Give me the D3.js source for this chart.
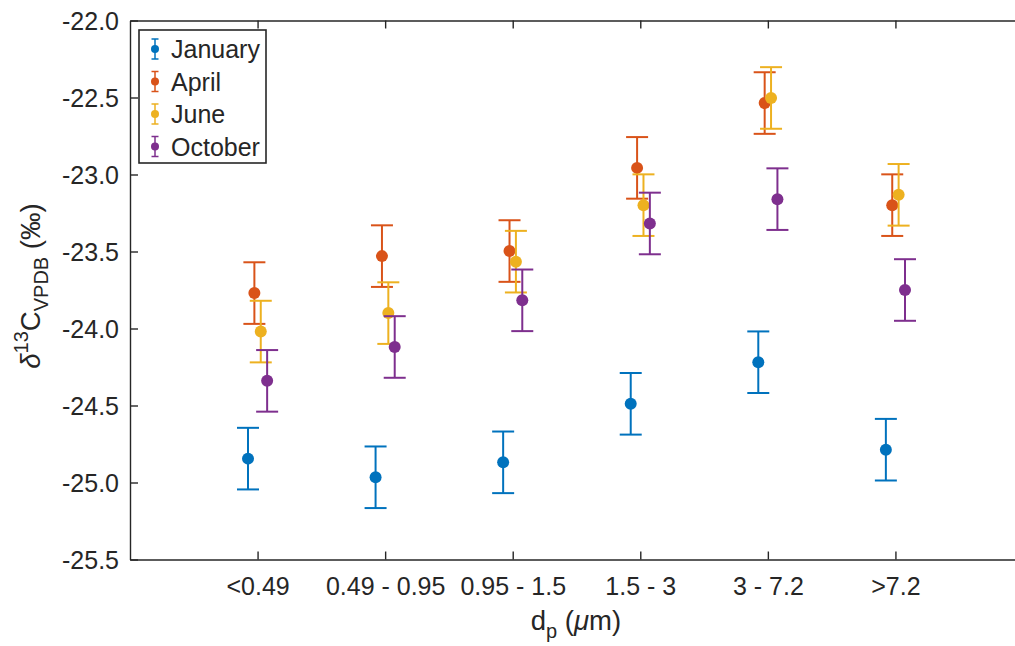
<!DOCTYPE html>
<html>
<head>
<meta charset="utf-8">
<script src="https://cdn.jsdelivr.net/npm/d3@7"></script>
<style>
  html, body { margin: 0; padding: 0; background: #fff; }
  svg { display: block; }
  text { font-family: "Liberation Sans", Arial, Helvetica, sans-serif; fill: #262626; }
</style>
</head>
<body>
<svg id="chart" width="1015" height="646"></svg>
<script>
// ---- data ----
const categories = ["<0.49", "0.49 - 0.95", "0.95 - 1.5", "1.5 - 3", "3 - 7.2", ">7.2"];
const seriesNames = ["January", "April", "June", "October"];
const january = [-24.845, -24.966, -24.869, -24.489, -24.219, -24.787];
const april   = [-23.770, -23.530, -23.497, -22.957, -22.536, -23.199];
const june    = [-24.020, -23.900, -23.566, -23.199, -22.503, -23.132];
const october = [-24.340, -24.120, -23.817, -23.318, -23.160, -23.750];
const errJanuary = [0.2, 0.2, 0.2, 0.2, 0.2, 0.2];
const errApril   = [0.2, 0.2, 0.2, 0.2, 0.2, 0.2];
const errJune    = [0.2, 0.2, 0.2, 0.2, 0.2, 0.2];
const errOctober = [0.2, 0.2, 0.2, 0.2, 0.2, 0.2];
const yTicks = [-25.5, -25.0, -24.5, -24.0, -23.5, -23.0, -22.5, -22.0];
const offsets = [-0.075, -0.025, 0.025, 0.075];
const colors = ["#0072BD", "#D95319", "#EDB120", "#7E2F8E"];

const series = [
  {name: seriesNames[0], values: january, err: errJanuary},
  {name: seriesNames[1], values: april, err: errApril},
  {name: seriesNames[2], values: june, err: errJune},
  {name: seriesNames[3], values: october, err: errOctober}
];

// ---- layout ----
const svg = d3.select("#chart");
const mLeft = 130, mRight = 1023, mTop = 20.5, mBottom = 559.5;
const x = d3.scaleLinear().domain([0, categories.length + 1]).range([mLeft, mRight]);
const y = d3.scaleLinear().domain([-25.5, -22.0]).range([mBottom, mTop]);
const axisColor = "#262626";
const fs = 25;
const fsLabel = 27.5;
const fsSmall = 20;
const tickLen = 8;

// series marks
const capHalf = 11;
series.forEach((s, si) => {
  const g = svg.append("g").attr("stroke", colors[si]).attr("fill", colors[si]);
  s.values.forEach((v, i) => {
    const cx = x(i + 1 + offsets[si]);
    const y1 = y(v + s.err[i]), y0 = y(v - s.err[i]);
    g.append("line").attr("x1", cx).attr("x2", cx).attr("y1", y1).attr("y2", y0).attr("stroke-width", 2);
    g.append("line").attr("x1", cx - capHalf).attr("x2", cx + capHalf).attr("y1", y1).attr("y2", y1).attr("stroke-width", 2);
    g.append("line").attr("x1", cx - capHalf).attr("x2", cx + capHalf).attr("y1", y0).attr("y2", y0).attr("stroke-width", 2);
    g.append("circle").attr("cx", cx).attr("cy", y(v)).attr("r", 6).attr("stroke", "none");
  });
});

// axes box
const axG = svg.append("g");
const xAxis = d3.axisBottom(x).tickValues(d3.range(1, categories.length + 1))
  .tickFormat(d => categories[d - 1]).tickSizeInner(-tickLen).tickSizeOuter(0).tickPadding(18);
const gx = axG.append("g").attr("transform", `translate(0,${mBottom})`).call(xAxis);
const xAxisTop = d3.axisTop(x).tickValues(d3.range(1, categories.length + 1))
  .tickFormat("").tickSizeInner(-tickLen).tickSizeOuter(0);
const gxt = axG.append("g").attr("transform", `translate(0,${mTop})`).call(xAxisTop);
const yAxis = d3.axisLeft(y).tickValues(yTicks).tickFormat(d => d.toFixed(1))
  .tickSizeInner(-tickLen).tickSizeOuter(0).tickPadding(18);
const gy = axG.append("g").attr("transform", `translate(${mLeft},0)`).call(yAxis);
const yAxisR = d3.axisRight(y).tickValues(yTicks).tickFormat("")
  .tickSizeInner(-tickLen).tickSizeOuter(0);
const gyr = axG.append("g").attr("transform", `translate(${mRight},0)`).call(yAxisR);

[gx, gxt, gy, gyr].forEach(g => {
  g.selectAll(".domain").attr("stroke", axisColor).attr("stroke-width", 1.4);
  g.selectAll(".tick line").attr("stroke", axisColor).attr("stroke-width", 1.4);
  g.selectAll(".tick text").attr("fill", axisColor).style("font-size", fs + "px")
    .style("font-family", '"Liberation Sans", Arial, Helvetica, sans-serif');
});
gy.selectAll(".tick text").attr("x", -11).attr("dy", "0.36em");
gx.selectAll(".tick text").attr("y", 0).attr("dy", 0).attr("transform", "translate(0,35)");

// x label
const xl = svg.append("text").attr("x", 576).attr("y", 630).attr("text-anchor", "middle").style("font-size", fsLabel + "px");
xl.append("tspan").text("d");
xl.append("tspan").attr("dy", 8).style("font-size", fsSmall + "px").text("p");
xl.append("tspan").attr("dy", -8).text(" (");
xl.append("tspan").style("font-style", "italic").text("\u03BC");
xl.append("tspan").text("m)");

// y label
const yl = svg.append("text").attr("transform", `translate(40,286) rotate(-90)`).attr("text-anchor", "middle").style("font-size", fsLabel + "px");
yl.append("tspan").style("font-style", "italic").text("\u03B4");
yl.append("tspan").attr("dy", -12).style("font-size", fsSmall + "px").text("13");
yl.append("tspan").attr("dy", 12).text("C");
yl.append("tspan").attr("dy", 8).style("font-size", fsSmall + "px").text("VPDB");
yl.append("tspan").attr("dy", -8).text(" (\u2030)");

// legend
const lg = svg.append("g");
lg.append("rect").attr("x", 139).attr("y", 30).attr("width", 127).attr("height", 133)
  .attr("fill", "#fff").attr("stroke", axisColor).attr("stroke-width", 1.6);
series.forEach((s, si) => {
  const ly = 49 + si * 32.5;
  const lx = 155;
  const c = colors[si];
  lg.append("line").attr("x1", lx).attr("x2", lx).attr("y1", ly - 10).attr("y2", ly + 10).attr("stroke", c).attr("stroke-width", 1.5);
  lg.append("line").attr("x1", lx - 3.5).attr("x2", lx + 3.5).attr("y1", ly - 10).attr("y2", ly - 10).attr("stroke", c).attr("stroke-width", 1.5);
  lg.append("line").attr("x1", lx - 3.5).attr("x2", lx + 3.5).attr("y1", ly + 10).attr("y2", ly + 10).attr("stroke", c).attr("stroke-width", 1.5);
  lg.append("circle").attr("cx", lx).attr("cy", ly).attr("r", 4).attr("fill", c);
  lg.append("text").attr("x", 171).attr("y", ly).attr("dy", "0.36em").style("font-size", fs + "px").text(s.name);
});
</script>
</body>
</html>
